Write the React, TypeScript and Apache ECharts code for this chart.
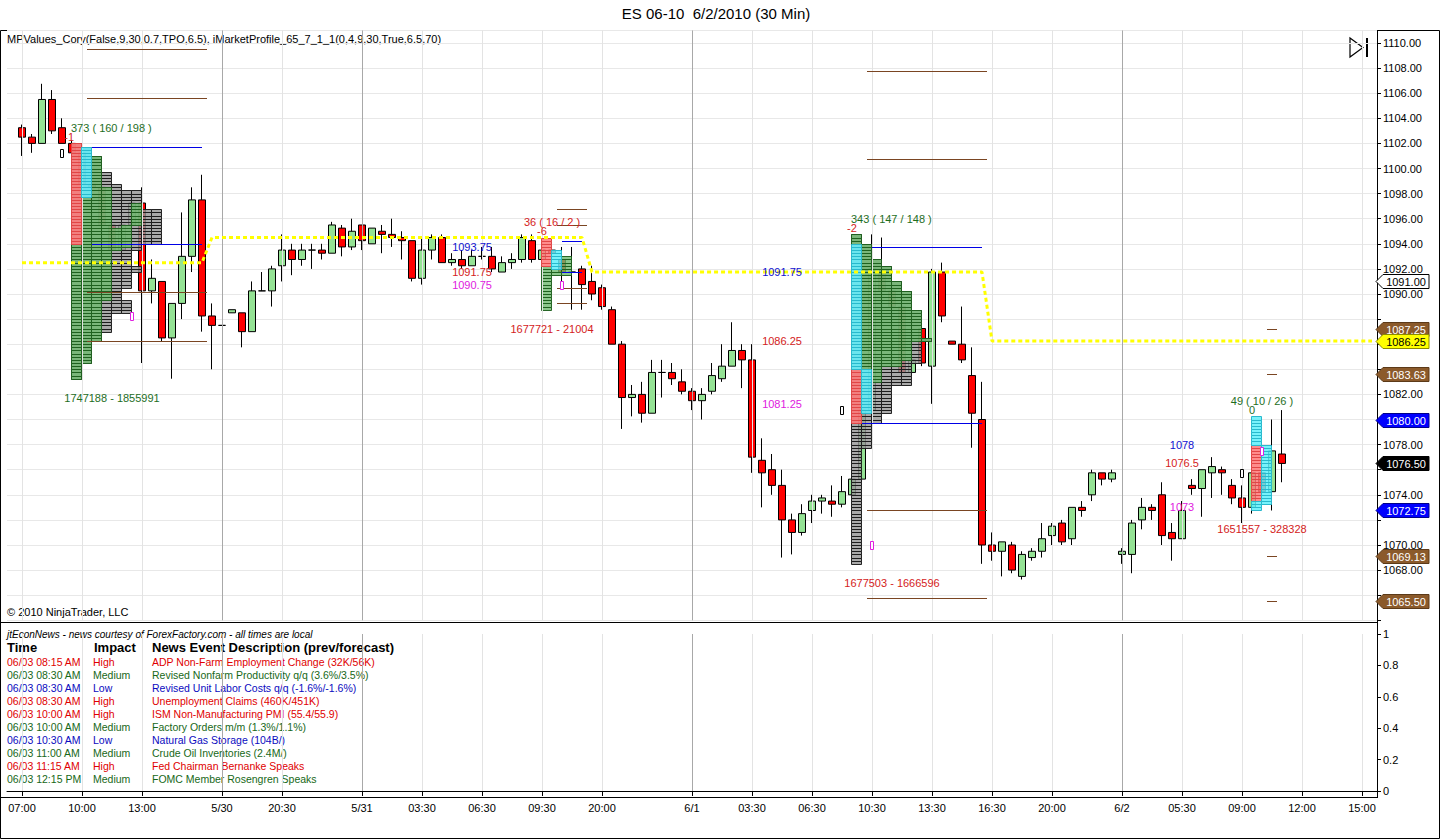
import React, { useEffect, useRef } from 'react';
import * as echarts from 'echarts';

const FONT = "Arial, 'Liberation Sans', Helvetica, sans-serif";
const SLOTS = 137;
const FIRST_BAR = 1;

// 30-minute bars: [open, high, low, close], from slot 1
const bars: number[][] = [
  [1103.25, 1103.5, 1101.0, 1102.5], [1102.5, 1102.75, 1101.25, 1102.0], [1102.0, 1106.75, 1102.0, 1105.5],
  [1105.5, 1106.25, 1102.75, 1103.0], [1103.25, 1104.0, 1102.0, 1102.0], [1102.0, 1102.25, 1101.25, 1101.25],
  [1101.25, 1101.5, 1098.5, 1098.75], [1098.75, 1099.0, 1098.25, 1098.5], [1098.5, 1098.75, 1095.25, 1095.5],
  [1095.5, 1096.0, 1093.25, 1093.5], [1093.5, 1095.75, 1093.25, 1095.5], [1095.5, 1097.5, 1095.25, 1097.25],
  [1097.25, 1098.5, 1084.5, 1090.25], [1090.25, 1092.75, 1089.25, 1091.25], [1091.0, 1091.0, 1086.25, 1086.5],
  [1086.5, 1089.25, 1083.25, 1089.25], [1089.25, 1096.5, 1088.0, 1093.0], [1093.0, 1098.5, 1091.75, 1097.5],
  [1097.5, 1099.5, 1087.0, 1088.25], [1088.25, 1089.25, 1084.0, 1087.5], [1087.5, 1087.5, 1087.5, 1087.5],
  [1088.5, 1088.75, 1088.5, 1088.75], [1088.5, 1088.5, 1085.75, 1087.0], [1087.0, 1091.0, 1087.0, 1090.25],
  [1090.25, 1091.75, 1090.25, 1090.25], [1090.25, 1092.25, 1089.0, 1092.0], [1092.25, 1094.75, 1091.0, 1093.5],
  [1093.5, 1094.0, 1091.5, 1092.75], [1092.75, 1094.0, 1092.25, 1093.5], [1093.5, 1094.0, 1092.0, 1093.5],
  [1093.5, 1094.0, 1092.75, 1093.25], [1093.25, 1095.75, 1093.25, 1095.5], [1095.25, 1095.5, 1093.0, 1093.75],
  [1093.75, 1096.0, 1093.5, 1095.0], [1095.5, 1095.5, 1093.5, 1094.25], [1094.0, 1095.25, 1094.0, 1095.25],
  [1095.0, 1095.5, 1093.25, 1094.75], [1094.75, 1096.0, 1093.75, 1094.5], [1094.5, 1095.0, 1092.75, 1094.25],
  [1094.25, 1094.25, 1091.0, 1091.25], [1091.25, 1094.5, 1090.75, 1093.5], [1093.5, 1094.75, 1092.75, 1094.5],
  [1094.5, 1094.75, 1092.5, 1092.5], [1092.5, 1093.25, 1092.25, 1092.75], [1092.75, 1093.5, 1092.0, 1092.25],
  [1092.25, 1093.5, 1092.25, 1093.0], [1093.0, 1093.75, 1092.75, 1093.0], [1093.0, 1093.75, 1091.75, 1092.0],
  [1091.75, 1093.0, 1091.75, 1092.5], [1092.5, 1093.25, 1092.0, 1092.75], [1092.75, 1094.75, 1092.5, 1094.5],
  [1094.25, 1094.75, 1092.5, 1092.75], [1092.75, 1094.0, 1092.5, 1093.5], [1093.5, 1093.75, 1092.75, 1093.25],
  [1092.75, 1093.75, 1090.75, 1091.75], [1091.75, 1093.75, 1088.75, 1091.75], [1092.0, 1092.25, 1088.75, 1090.75],
  [1091.0, 1092.25, 1089.5, 1090.0], [1090.5, 1090.75, 1088.75, 1089.0], [1088.75, 1089.0, 1086.0, 1086.0],
  [1086.0, 1086.25, 1079.25, 1081.75], [1081.75, 1082.75, 1080.25, 1082.0], [1082.0, 1083.0, 1079.75, 1080.5],
  [1080.5, 1084.75, 1080.5, 1083.75], [1083.75, 1084.75, 1081.75, 1083.75], [1083.75, 1084.5, 1082.75, 1083.25],
  [1083.0, 1084.0, 1082.0, 1082.25], [1082.25, 1082.5, 1080.75, 1081.5], [1081.5, 1082.5, 1080.0, 1082.0],
  [1082.25, 1084.5, 1082.0, 1083.5], [1083.25, 1086.0, 1083.0, 1084.25], [1084.25, 1087.75, 1084.25, 1085.5],
  [1085.5, 1086.0, 1082.5, 1084.75], [1084.75, 1086.0, 1075.75, 1077.0], [1076.75, 1078.5, 1073.0, 1075.75],
  [1076.0, 1077.25, 1074.0, 1074.75], [1074.75, 1076.0, 1069.0, 1072.0], [1072.0, 1072.5, 1069.25, 1071.0],
  [1071.0, 1073.25, 1070.75, 1072.5], [1072.75, 1074.0, 1071.75, 1073.5], [1073.5, 1074.0, 1072.5, 1073.75],
  [1073.5, 1074.75, 1072.25, 1073.25], [1073.25, 1075.5, 1073.0, 1074.25], [1074.0, 1075.5, 1074.0, 1075.25],
  [1075.25, 1081.5, 1075.0, 1080.75], [1080.75, 1094.75, 1080.25, 1092.0], [1091.75, 1094.5, 1090.0, 1090.25],
  [1090.25, 1090.75, 1088.75, 1089.0], [1089.0, 1089.25, 1083.5, 1083.75], [1083.75, 1085.5, 1083.5, 1084.75],
  [1087.25, 1087.5, 1084.25, 1084.5], [1084.25, 1092.0, 1081.25, 1091.75], [1091.75, 1092.5, 1087.75, 1088.25],
  [1086.25, 1086.25, 1086.0, 1086.0], [1086.0, 1089.0, 1084.5, 1084.75], [1083.5, 1085.75, 1077.75, 1080.5],
  [1080.0, 1083.0, 1068.5, 1070.0], [1070.0, 1071.0, 1068.75, 1069.5], [1069.5, 1070.25, 1067.5, 1070.25],
  [1070.0, 1070.25, 1067.75, 1068.0], [1067.5, 1069.5, 1067.25, 1069.25], [1069.0, 1069.75, 1068.75, 1069.5],
  [1069.5, 1071.75, 1069.0, 1070.5], [1070.75, 1071.75, 1070.0, 1071.5], [1071.75, 1072.0, 1070.0, 1070.25],
  [1070.5, 1073.0, 1070.0, 1073.0], [1073.0, 1073.5, 1072.25, 1072.75], [1074.0, 1076.0, 1073.5, 1075.75],
  [1075.75, 1075.75, 1074.75, 1075.25], [1075.25, 1076.0, 1075.0, 1075.75], [1069.25, 1069.75, 1068.5, 1069.5],
  [1069.25, 1072.0, 1067.75, 1071.75], [1072.0, 1073.75, 1071.25, 1073.0], [1073.0, 1073.25, 1072.0, 1072.75],
  [1074.0, 1075.0, 1070.0, 1070.75], [1071.0, 1071.75, 1068.75, 1070.5], [1070.5, 1073.5, 1070.5, 1072.75],
  [1074.75, 1075.25, 1074.0, 1074.5], [1074.5, 1076.0, 1072.25, 1076.0], [1075.75, 1077.0, 1073.75, 1076.25],
  [1076.0, 1076.25, 1074.0, 1075.75], [1074.75, 1075.25, 1073.25, 1073.75], [1073.75, 1074.75, 1071.75, 1073.0],
  [1073.0, 1075.75, 1072.5, 1075.75], [1075.75, 1077.5, 1073.5, 1074.25], [1074.25, 1080.0, 1072.75, 1077.5],
  [1077.25, 1080.75, 1075.0, 1076.5],
];

const timeLabels: [number, string][] = [
  [1, '07:00'], [7, '10:00'], [13, '13:00'], [21, '5/30'], [27, '20:30'], [35, '5/31'], [41, '03:30'],
  [47, '06:30'], [53, '09:30'], [59, '20:00'], [68, '6/1'], [74, '03:30'], [80, '06:30'], [86, '10:30'],
  [92, '13:30'], [98, '16:30'], [104, '20:00'], [111, '6/2'], [117, '05:30'], [123, '09:00'], [129, '12:00'],
  [135, '15:00'],
];
const daySeparators = [21, 35, 68, 111];

// yellow dotted level: [fromSlot, toSlot, price]
const levelSteps: number[][] = [[1, 19, 1092.5], [20, 57, 1094.5], [58, 97, 1091.75], [98, 136, 1086.25]];

// profile columns: [startSlot, column, topPrice, bottomPrice]
const profileGray: number[][] = [
  [6, 0, 1102.0, 1083.25], [6, 1, 1101.75, 1084.5], [6, 2, 1101.0, 1086.25], [6, 3, 1099.75, 1087.0],
  [6, 4, 1098.75, 1088.5], [6, 5, 1098.25, 1090.5], [6, 5, 1089.5, 1088.5], [6, 6, 1098.25, 1093.5],
  [6, 6, 1092.25, 1091.75], [6, 7, 1096.75, 1094.0], [6, 8, 1096.75, 1094.0],
  [84, 0, 1094.75, 1068.5], [84, 1, 1094.0, 1077.75], [84, 2, 1092.75, 1079.75], [84, 3, 1092.25, 1080.5],
  [84, 4, 1091.0, 1082.75], [84, 5, 1090.25, 1082.75], [84, 6, 1088.75, 1084.5], [84, 7, 1086.5, 1086.25],
];
const profileGreen: number[][] = [
  [6, 0, 1094.0, 1083.25], [6, 1, 1097.75, 1084.5], [6, 2, 1101.0, 1086.25], [6, 3, 1098.5, 1089.5],
  [6, 4, 1095.25, 1093.5], [6, 5, 1095.5, 1093.75], [6, 6, 1097.25, 1095.5],
  [84, 0, 1094.75, 1094.0], [84, 1, 1094.0, 1084.0], [84, 2, 1092.75, 1083.0], [84, 3, 1092.25, 1084.25],
  [84, 4, 1091.0, 1084.25], [84, 5, 1090.25, 1084.75], [84, 6, 1088.75, 1086.25], [84, 7, 1086.5, 1086.25],
  [53, 0, 1092.25, 1088.75], [53, 1, 1092.0, 1091.5], [53, 2, 1093.0, 1091.5],
];
const profileRed: number[][] = [
  [6, 0, 1102.0, 1094.0], [84, 0, 1084.0, 1079.75], [53, 0, 1094.5, 1092.25], [124, 0, 1078.0, 1073.5],
];
const profileCyan: number[][] = [
  [6, 1, 1101.75, 1097.75], [84, 0, 1094.0, 1084.0], [84, 1, 1084.0, 1080.5], [53, 1, 1093.5, 1092.0],
  [124, 0, 1080.25, 1078.0], [124, 0, 1073.5, 1072.75], [124, 1, 1078.0, 1073.25],
];

// initial balance lines (blue) and extensions (brown): [fromSlot, toSlot, price]
const ibLines: number[][] = [
  [8, 19, 1101.75], [8, 19, 1094.0], [55, 57, 1094.25], [55, 57, 1091.75], [86, 97, 1093.75], [85, 97, 1079.75],
];
const extLines: number[][] = [
  [8, 19, 1109.5], [8, 19, 1105.625], [8, 19, 1090.125], [8, 19, 1086.25],
  [55, 57, 1096.75], [55, 57, 1095.5], [55, 57, 1090.5], [55, 57, 1089.25],
  [86, 97, 1107.75], [86, 97, 1100.75], [86, 97, 1072.75], [86, 97, 1065.75],
  [126, 126, 1087.25], [126, 126, 1083.625], [126, 126, 1069.125], [126, 126, 1065.5],
];

const openMarks: number[][] = [[5, 1101.25], [83, 1080.75], [123, 1075.75]];
const pocMarks: number[][] = [[12, 1088.25], [55, 1090.75], [86, 1070.0], [125, 1077.5]];

// annotations: [slot, price, text, colour, align]
const notes: [number, number, string, string, string][] = [
  [6, 1103.25, '373 ( 160 / 198 )', 'g', 'left'],
  [6, 1102.5, '-1', 'r', 'right'],
  [10, 1081.75, '1747188 - 1855991', 'g', 'center'],
  [54, 1095.75, '36 ( 16 / 2 )', 'r', 'center'],
  [53, 1095.0, '-6', 'r', 'center'],
  [46, 1093.75, '1093.75', 'b', 'center'],
  [46, 1091.75, '1091.75', 'r', 'center'],
  [46, 1090.75, '1090.75', 'm', 'center'],
  [54, 1087.25, '1677721 - 21004', 'r', 'center'],
  [77, 1091.75, '1091.75', 'b', 'center'],
  [77, 1086.25, '1086.25', 'r', 'center'],
  [77, 1081.25, '1081.25', 'm', 'center'],
  [84, 1096.0, '343 ( 147 / 148 )', 'g', 'left'],
  [84, 1095.25, '-2', 'r', 'center'],
  [88, 1067.0, '1677503 - 1666596', 'r', 'center'],
  [117, 1078.0, '1078', 'b', 'center'],
  [117, 1076.5, '1076.5', 'r', 'center'],
  [117, 1073.0, '1073', 'm', 'center'],
  [125, 1081.5, '49 ( 10 / 26 )', 'g', 'center'],
  [124, 1080.75, '0', 'g', 'center'],
  [125, 1071.25, '1651557 - 328328', 'r', 'center'],
];

// right-axis price tags: [price, text, kind]
const priceTags: [number, string, string][] = [
  [1091.0, '1091.00', 'white'], [1087.25, '1087.25', 'brown'], [1086.25, '1086.25', 'yellow'],
  [1083.625, '1083.63', 'brown'], [1080.0, '1080.00', 'blue'], [1076.5, '1076.50', 'black'],
  [1072.75, '1072.75', 'blue'], [1069.125, '1069.13', 'brown'], [1065.5, '1065.50', 'brown'],
];

const newsTimes = [
  '06/03 08:15 AM', '06/03 08:30 AM', '06/03 08:30 AM', '06/03 08:30 AM', '06/03 10:00 AM',
  '06/03 10:00 AM', '06/03 10:30 AM', '06/03 11:00 AM', '06/03 11:15 AM', '06/03 12:15 PM',
];
const newsImpacts = ['High', 'Medium', 'Low', 'High', 'High', 'Medium', 'Low', 'Medium', 'High', 'Medium'];
const newsEvents = [
  'ADP Non-Farm Employment Change (32K/56K)',
  'Revised Nonfarm Productivity q/q (3.6%/3.5%)',
  'Revised Unit Labor Costs q/q (-1.6%/-1.6%)',
  'Unemployment Claims (460K/451K)',
  'ISM Non-Manufacturing PMI (55.4/55.9)',
  'Factory Orders m/m (1.3%/1.1%)',
  'Natural Gas Storage (104B/)',
  'Crude Oil Inventories (2.4M/)',
  'Fed Chairman Bernanke Speaks',
  'FOMC Member Rosengren Speaks',
];

const noteColors: Record<string, string> = { g: '#1E6E1E', r: '#D42222', b: '#1010D0', m: '#E020E0' };
const impactColors: Record<string, string> = { High: '#E00000', Medium: '#176817', Low: '#0B0BC0' };
const tagStyles: Record<string, { bg: string; fg: string; border: string }> = {
  white: { bg: '#FFFFFF', fg: '#000000', border: '#000000' },
  brown: { bg: '#8B5A2B', fg: '#FFFFFF', border: '#5C3A18' },
  yellow: { bg: '#FFFF00', fg: '#000000', border: '#8A8A00' },
  blue: { bg: '#0000FF', fg: '#FFFFFF', border: '#00008A' },
  black: { bg: '#000000', fg: '#FFFFFF', border: '#000000' },
};

function txt(x: number, y: number, text: string, fill: string, font: string, align = 'left'): any {
  return {
    type: 'text', x, y, silent: true,
    style: { text, fill, font, align, textAlign: align, verticalAlign: 'middle', textVerticalAlign: 'middle' },
  };
}

function profileSeries(rows: number[][], fill: string, stroke: string, z: number): any {
  return {
    type: 'custom', xAxisIndex: 0, yAxisIndex: 0, z, silent: true, clip: false,
    encode: { x: 0, y: 1 },
    data: rows.map((r) => [r[0], r[2], r[1], r[3]]),
    renderItem: (params: any, api: any) => {
      const start = api.value(0), top = api.value(1), col = api.value(2), bot = api.value(3);
      const w = api.size([1, 0])[0];
      const x = Math.round(api.coord([start, top])[0] - 1 + col * w);
      const n = Math.round((top - bot) / 0.25);
      const children: any[] = [];
      for (let k = 0; k < n; k++) {
        const y0 = Math.round(api.coord([start, top - k * 0.25])[1]);
        const y1 = Math.round(api.coord([start, top - (k + 1) * 0.25])[1]);
        children.push({
          type: 'rect',
          shape: { x: x + 0.5, y: y0 + 0.5, width: Math.round(w), height: y1 - y0 },
          style: { fill, stroke, lineWidth: 1 },
        });
      }
      return { type: 'group', children };
    },
  };
}

function levelLineSeries(rows: number[][], color: string, edges: boolean, z: number): any {
  return {
    type: 'custom', xAxisIndex: 0, yAxisIndex: 0, z, silent: true, clip: false,
    encode: { x: 0, y: 1 },
    data: rows.map((r) => [r[0], r[2], r[1]]),
    renderItem: (params: any, api: any) => {
      const half = edges ? api.size([1, 0])[0] / 2 : 0;
      const a = api.coord([api.value(0), api.value(1)]);
      const b = api.coord([api.value(2), api.value(1)]);
      const y = Math.round(a[1]) + 0.5;
      return {
        type: 'line',
        shape: { x1: a[0] - half, y1: y, x2: b[0] + half, y2: y },
        style: { stroke: color, lineWidth: 1 },
      };
    },
  };
}

function markerSeries(rows: number[][], stroke: string, z: number): any {
  return {
    type: 'custom', xAxisIndex: 0, yAxisIndex: 0, z, silent: true,
    encode: { x: 0, y: 1 },
    data: rows,
    renderItem: (params: any, api: any) => {
      const p = api.coord([api.value(0), api.value(1)]);
      return {
        type: 'rect',
        shape: { x: Math.round(p[0]) - 1.5, y: Math.round(p[1]) - 3.5, width: 3, height: 8 },
        style: { fill: '#FFFFFF', stroke, lineWidth: 1 },
      };
    },
  };
}

function buildOption(): any {
  const cats = Array.from({ length: SLOTS }, (_, i) => String(i));
  const labelMap: Record<number, string> = {};
  timeLabels.forEach(([s, l]) => { labelMap[s] = l; });
  const labelSet = new Set(timeLabels.map((t) => t[0]));
  const sepSet = new Set(daySeparators);

  const candleData = cats.map((_, i) => {
    const b = bars[i - FIRST_BAR];
    return b ? [b[0], b[3], b[2], b[1]] : ['-', '-', '-', '-'];
  });
  const levelData = cats.map((_, i) => {
    const s = levelSteps.find((t) => i >= t[0] && i <= t[1]);
    return s ? s[2] : '-';
  });
  const empty = cats.map(() => '-');
  const vLines = timeLabels.map(([s]) => ({
    xAxis: String(s),
    lineStyle: { color: sepSet.has(s) ? '#A8A8A8' : '#E3E3E3', width: 1, type: 'solid' },
  }));
  const markLine = {
    silent: true, symbol: ['none', 'none'], label: { show: false }, animation: false, data: vLines,
  };
  const coveredByTag = (v: number) => priceTags.some((t) => Math.abs(t[0] - v) < 0.8);

  const rowFont = `10.5px ${FONT}`;
  const graphics: any[] = [
    { type: 'rect', silent: true, shape: { x: 0.5, y: 30.5, width: 1439, height: 808 }, style: { fill: 'none', stroke: '#000', lineWidth: 1 } },
    { type: 'line', silent: true, shape: { x1: 0, y1: 622.5, x2: 1377, y2: 622.5 }, style: { stroke: '#000', lineWidth: 1 } },
    { type: 'line', silent: true, shape: { x1: 0, y1: 797.5, x2: 1377, y2: 797.5 }, style: { stroke: '#000', lineWidth: 1 } },
    { type: 'line', silent: true, shape: { x1: 1377.5, y1: 30, x2: 1377.5, y2: 798 }, style: { stroke: '#000', lineWidth: 1 } },
    txt(716, 13, 'ES 06-10  6/2/2010 (30 Min)', '#000', `15px ${FONT}`, 'center'),
    txt(7, 39, 'MPValues_Cory(False,9,30,0.7,TPO,6.5), iMarketProfile_65_7_1_1(0,4,9,30,True,6.5,70)', '#000', `11px ${FONT}`),
    txt(7, 612, '© 2010 NinjaTrader, LLC', '#000', `11px ${FONT}`),
    { type: 'polygon', silent: true, shape: { points: [[1350, 38], [1363, 47.5], [1350, 57]] }, style: { fill: 'none', stroke: '#000', lineWidth: 1.2 } },
    { type: 'line', silent: true, shape: { x1: 1367, y1: 38, x2: 1367, y2: 57 }, style: { stroke: '#000', lineWidth: 2 } },
    txt(7, 634, 'jtEconNews - news courtesy of ForexFactory.com - all times are local', '#000', `italic 10px ${FONT}`),
    txt(7, 647, 'Time', '#000', `bold 13px ${FONT}`),
    txt(94, 647, 'Impact', '#000', `bold 13px ${FONT}`),
    txt(152, 647, 'News Event Description (prev/forecast)', '#000', `bold 13px ${FONT}`),
  ];
  newsTimes.forEach((t, i) => {
    const c = impactColors[newsImpacts[i]];
    const y = 662 + i * 13;
    graphics.push(txt(7, y, t, c, rowFont));
    graphics.push(txt(93, y, newsImpacts[i], c, rowFont));
    graphics.push(txt(152, y, newsEvents[i], c, rowFont));
  });

  return {
    animation: false,
    backgroundColor: '#FFFFFF',
    grid: [
      { left: 7, right: 63, top: 30.45, height: 589.85 },
      { left: 7, right: 63, top: 634, height: 157 },
    ],
    xAxis: [
      { type: 'category', gridIndex: 0, data: cats, boundaryGap: true, show: false },
      {
        type: 'category', gridIndex: 1, data: cats, boundaryGap: true, position: 'bottom', offset: 6,
        axisLine: { show: true, lineStyle: { color: '#000' } },
        axisTick: { show: true, alignWithLabel: true, length: 5, interval: (i: number) => labelSet.has(i), lineStyle: { color: '#000' } },
        axisLabel: {
          interval: (i: number) => labelSet.has(i),
          formatter: (v: string) => labelMap[Number(v)] || '',
          color: '#000', fontSize: 11, margin: 5, fontFamily: "'Liberation Sans Narrow', 'Arial Narrow', Arial, sans-serif",
        },
        splitLine: { show: false },
      },
    ],
    yAxis: [
      {
        type: 'value', gridIndex: 0, position: 'right', min: 1064, max: 1111, interval: 2,
        axisLine: { show: true, lineStyle: { color: '#000' } },
        axisTick: { show: true, length: 4, lineStyle: { color: '#000' } },
        axisLabel: {
          margin: 6, color: '#000', fontSize: 11, fontFamily: FONT,
          formatter: (v: number) => (v > 1064.5 && v < 1110.5 && Math.round(v) % 2 === 0 && !coveredByTag(v) ? v.toFixed(2) : ''),
        },
        splitLine: { show: true, lineStyle: { color: '#E8E8E8' } },
      },
      {
        type: 'value', gridIndex: 1, position: 'right', min: 0, max: 1, interval: 0.2,
        axisLine: { show: true, lineStyle: { color: '#000' } },
        axisTick: { show: true, length: 4, lineStyle: { color: '#000' } },
        axisLabel: { margin: 6, color: '#000', fontSize: 11, fontFamily: FONT, formatter: (v: number) => String(Math.round(v * 10) / 10) },
        splitLine: { show: false },
      },
    ],
    series: [
      { type: 'line', xAxisIndex: 0, yAxisIndex: 0, data: empty, z: 1, silent: true, showSymbol: false, markLine },
      { type: 'line', xAxisIndex: 1, yAxisIndex: 1, data: empty, z: 1, silent: true, showSymbol: false, markLine },
      {
        type: 'candlestick', xAxisIndex: 0, yAxisIndex: 0, z: 2, barWidth: 8, data: candleData, silent: true,
        itemStyle: {
          color: '#94E294', color0: '#FF0000', borderColor: '#000', borderColor0: '#000',
          borderColorDoji: '#000', borderWidth: 1,
        },
      },
      profileSeries(profileGray, 'rgba(150,150,150,0.82)', 'rgba(25,25,25,0.95)', 3),
      profileSeries(profileGreen, 'rgba(110,185,110,0.8)', 'rgba(30,95,30,0.95)', 4),
      profileSeries(profileRed, 'rgba(255,120,120,0.85)', 'rgba(225,70,70,1)', 5),
      profileSeries(profileCyan, 'rgba(95,240,250,0.85)', 'rgba(40,185,205,1)', 5),
      levelLineSeries(ibLines, '#0000E6', false, 6),
      levelLineSeries(extLines, '#7A4522', true, 6),
      {
        type: 'line', xAxisIndex: 0, yAxisIndex: 0, z: 7, data: levelData, showSymbol: false, silent: true,
        lineStyle: { color: '#FFFF00', width: 3, type: [4, 3] },
      },
      markerSeries(openMarks, '#000000', 8),
      markerSeries(pocMarks, '#E020E0', 8),
      {
        type: 'custom', xAxisIndex: 0, yAxisIndex: 0, z: 9, silent: true, clip: false,
        encode: { x: 0, y: 1 },
        data: notes.map((n) => [n[0], n[1]]),
        renderItem: (params: any, api: any) => {
          const n = notes[params.dataIndex];
          const p = api.coord([api.value(0), api.value(1)]);
          const x = n[4] === 'left' ? p[0] - 1 : n[4] === 'right' ? p[0] + 2 : p[0];
          return txt(x, p[1], n[2], noteColors[n[3]], `11px ${FONT}`, n[4]);
        },
      },
      {
        type: 'custom', xAxisIndex: 0, yAxisIndex: 0, z: 10, silent: true, clip: false,
        encode: { x: 0, y: 1 },
        data: priceTags.map((t) => [SLOTS - 1, t[0]]),
        renderItem: (params: any, api: any) => {
          const t = priceTags[params.dataIndex];
          const cs = params.coordSys;
          const xr = cs.x + cs.width;
          const y = Math.round(api.coord([api.value(0), api.value(1)])[1]) + 0.5;
          const st = tagStyles[t[2]];
          return {
            type: 'group',
            children: [
              {
                type: 'polygon',
                shape: { points: [[xr - 1, y], [xr + 6, y - 7], [xr + 52, y - 7], [xr + 52, y + 7], [xr + 6, y + 7]] },
                style: { fill: st.bg, stroke: st.border, lineWidth: 1 },
              },
              txt(xr + 29, y, t[1], st.fg, `11px ${FONT}`, 'center'),
            ],
          };
        },
      },
    ],
    graphic: graphics,
  };
}

export default function App() {
  const ref = useRef<HTMLDivElement>(null);
  useEffect(() => {
    document.body.style.margin = '0';
    const chart = echarts.init(ref.current as HTMLDivElement, undefined, { renderer: 'svg' });
    chart.setOption(buildOption());
    return () => chart.dispose();
  }, []);
  return <div ref={ref} style={{ width: 1440, height: 840, background: '#FFFFFF' }} />;
}
